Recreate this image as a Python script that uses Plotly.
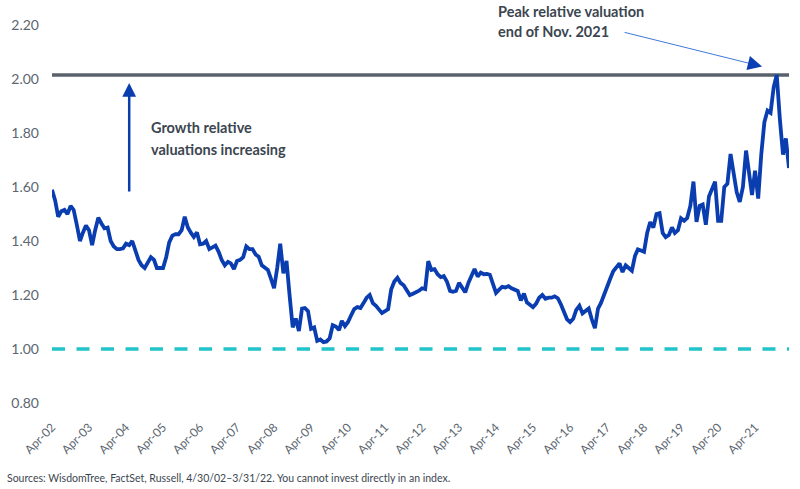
import pandas as pd
import plotly.graph_objects as go

# ---- data (monthly, Apr-2002 .. Mar-2022) ----
start_month = "2002-04-30"
y02 = [1.59, 1.55, 1.49, 1.51, 1.515, 1.50, 1.53, 1.515, 1.46, 1.40, 1.43, 1.457]
y03 = [1.44, 1.385, 1.44, 1.486, 1.465, 1.447, 1.45, 1.40, 1.38, 1.37, 1.37, 1.373]
y04 = [1.39, 1.385, 1.40, 1.36, 1.33, 1.31, 1.30, 1.32, 1.34, 1.33, 1.30, 1.30]
y05 = [1.30, 1.34, 1.395, 1.42, 1.425, 1.425, 1.44, 1.49, 1.45, 1.43, 1.415, 1.432]
y06 = [1.388, 1.39, 1.40, 1.37, 1.375, 1.383, 1.36, 1.33, 1.31, 1.323, 1.317, 1.296]
y07 = [1.326, 1.33, 1.34, 1.38, 1.37, 1.37, 1.35, 1.342, 1.31, 1.30, 1.293, 1.26]
y08 = [1.225, 1.30, 1.39, 1.28, 1.326, 1.20, 1.08, 1.113, 1.067, 1.15, 1.152, 1.14]
y09 = [1.075, 1.08, 1.03, 1.035, 1.025, 1.028, 1.04, 1.088, 1.083, 1.07, 1.104, 1.085]
y10 = [1.10, 1.125, 1.148, 1.155, 1.152, 1.17, 1.19, 1.20, 1.17, 1.16, 1.145, 1.133]
y11 = [1.14, 1.148, 1.22, 1.25, 1.264, 1.245, 1.236, 1.22, 1.20, 1.205, 1.21, 1.216]
y12 = [1.225, 1.222, 1.325, 1.293, 1.296, 1.277, 1.266, 1.27, 1.25, 1.215, 1.212, 1.215]
y13 = [1.245, 1.23, 1.21, 1.245, 1.275, 1.296, 1.268, 1.283, 1.277, 1.278, 1.275, 1.235]
y14 = [1.208, 1.22, 1.23, 1.228, 1.233, 1.225, 1.218, 1.215, 1.18, 1.205, 1.173, 1.163]
y15 = [1.155, 1.168, 1.19, 1.20, 1.186, 1.19, 1.19, 1.195, 1.188, 1.165, 1.135, 1.11]
y16 = [1.10, 1.112, 1.145, 1.16, 1.132, 1.14, 1.15, 1.11, 1.077, 1.15, 1.17, 1.20]
y17 = [1.233, 1.26, 1.288, 1.30, 1.317, 1.285, 1.31, 1.30, 1.29, 1.345, 1.369, 1.365]
y18 = [1.36, 1.43, 1.47, 1.45, 1.50, 1.503, 1.43, 1.414, 1.422, 1.45, 1.43, 1.44]
y19 = [1.484, 1.475, 1.485, 1.53, 1.62, 1.471, 1.53, 1.535, 1.46, 1.565, 1.595, 1.62]
y20 = [1.475, 1.475, 1.60, 1.612, 1.722, 1.64, 1.58, 1.545, 1.60, 1.735, 1.66, 1.57]
y21 = [1.66, 1.557, 1.72, 1.84, 1.883, 1.875, 1.97, 2.015, 1.85, 1.72, 1.78, 1.67]

peak_level = 2.015
parity_level = 1.00

tick_labels = ["Apr-02", "Apr-03", "Apr-04", "Apr-05", "Apr-06", "Apr-07", "Apr-08",
               "Apr-09", "Apr-10", "Apr-11", "Apr-12", "Apr-13", "Apr-14", "Apr-15",
               "Apr-16", "Apr-17", "Apr-18", "Apr-19", "Apr-20", "Apr-21"]
y_ticks = [0.8, 1.0, 1.2, 1.4, 1.6, 1.8, 2.0, 2.2]

values = (y02 + y03 + y04 + y05 + y06 + y07 + y08 + y09 + y10 + y11 +
          y12 + y13 + y14 + y15 + y16 + y17 + y18 + y19 + y20 + y21)
dates = pd.date_range(start_month, periods=len(values), freq="ME")

FONT = "Lato"
TXT = "#3b4650"
TICK = "#5b6670"
BLUE = "#0a3db0"

fig = go.Figure()

# reference lines
fig.add_trace(go.Scatter(x=[dates[0], dates[-1]], y=[peak_level, peak_level], mode="lines",
                         line=dict(color="#59626b", width=3.5), hoverinfo="skip"))
fig.add_trace(go.Scatter(x=[dates[0], dates[-1]], y=[parity_level, parity_level], mode="lines",
                         line=dict(color="#22c3c9", width=3.5, dash="13px,11.5px"), hoverinfo="skip"))
# main series
fig.add_trace(go.Scatter(x=dates, y=values, mode="lines",
                         line=dict(color=BLUE, width=3.8), hoverinfo="skip"))

# ---- annotations ----
def px(xp):  # pixel -> paper x
    return (xp - 50) / 739.0

def py(yp):  # pixel -> paper y
    return (403 - yp) / 378.0

ann = []
# vertical arrow "growth relative valuations increasing"
ann.append(dict(x=dates[25], y=1.985, xref="x", yref="y", ax=0, ay=110,
                showarrow=True, arrowhead=2, arrowsize=1.1, arrowwidth=2.5,
                arrowcolor=BLUE, text=""))
ann.append(dict(x=px(147), y=py(128), xref="paper", yref="paper", xanchor="left",
                yanchor="middle", showarrow=False, text="<b>Growth relative</b>",
                font=dict(family=FONT, size=14.5, color=TXT)))
ann.append(dict(x=px(147), y=py(149), xref="paper", yref="paper", xanchor="left",
                yanchor="middle", showarrow=False, text="<b>valuations increasing</b>",
                font=dict(family=FONT, size=14.5, color=TXT)))
# peak annotation
ann.append(dict(x=px(495), y=py(11), xref="paper", yref="paper", xanchor="left",
                yanchor="middle", showarrow=False, text="<b>Peak relative valuation</b>",
                font=dict(family=FONT, size=14.5, color=TXT)))
ann.append(dict(x=px(495), y=py(32), xref="paper", yref="paper", xanchor="left",
                yanchor="middle", showarrow=False, text="<b>end of Nov. 2021</b>",
                font=dict(family=FONT, size=14.5, color=TXT)))
ann.append(dict(x=px(760), y=py(66), xref="paper", yref="paper", ax=-137, ay=-34,
                showarrow=True, arrowhead=0, arrowwidth=1, arrowcolor="#3f7ad8", text=""))
ann.append(dict(x=px(762), y=py(66.5), xref="paper", yref="paper", ax=-12, ay=-3,
                showarrow=True, arrowhead=2, arrowsize=1.3, arrowwidth=2.2,
                arrowcolor="#0c3fb4", text=""))
# source
ann.append(dict(x=px(3), y=py(478), xref="paper", yref="paper", xanchor="left",
                yanchor="middle", showarrow=False,
                text="Sources: WisdomTree, FactSet, Russell, 4/30/02\u20133/31/22. You cannot invest directly in an index.",
                font=dict(family=FONT, size=10.5, color=TXT)))

fig.update_layout(
    width=800, height=489,
    margin=dict(l=50, r=11, t=25, b=86),
    paper_bgcolor="white", plot_bgcolor="white",
    showlegend=False,
    annotations=ann,
    xaxis=dict(type="date", range=[dates[0], dates[-1]], showgrid=False, zeroline=False,
               showline=False, tickvals=list(dates[0::12]), ticktext=tick_labels,
               tickangle=-45, tickfont=dict(family=FONT, size=12, color=TICK),
               ticks="", ticklabelstandoff=14),
    yaxis=dict(range=[0.8, 2.2], showgrid=False, zeroline=False, showline=False,
               tickvals=y_ticks, tickformat=".2f", ticks="",
               tickfont=dict(family=FONT, size=14, color=TICK), ticklabelstandoff=12),
)

fig.write_html("out.html")
